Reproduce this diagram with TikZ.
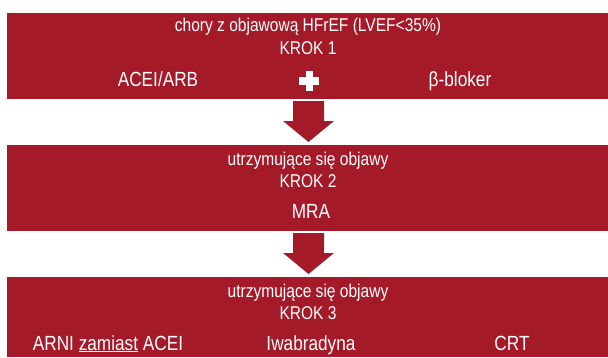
\documentclass[tikz,border=0pt]{standalone}
\usepackage{fontspec}
\setmainfont[FakeStretch=0.84]{Liberation Sans}
\usetikzlibrary{calc}
\definecolor{boxred}{RGB}{165,26,41}
\begin{document}
\begin{tikzpicture}[x=1pt,y=1pt,
  redbox/.style={fill=boxred, draw=none, inner sep=0pt, outer sep=0pt, anchor=south west},
  hdr/.style={text=white, font=\fontsize{18.5}{20}\selectfont, anchor=base, inner sep=0pt},
  itm/.style={text=white, font=\fontsize{20.5}{22}\selectfont, anchor=base, inner sep=0pt}]
\useasboundingbox (0,0) rectangle (608,357);
% boxes
\node[redbox, minimum width=601pt, minimum height=86pt] (b1) at (7,258) {};
\node[redbox, minimum width=601pt, minimum height=86pt] (b2) at (7,126) {};
\node[redbox, minimum width=601pt, minimum height=80pt] (b3) at (7,0) {};
% arrows
\foreach \a/\b in {b1/b2, b2/b3} {
  \fill[boxred] let \p1=(\a.south), \p2=(\b.north) in
    (293,\y1-2pt) -- (324,\y1-2pt) -- (324,\y2+24pt) -- (334,\y2+24pt)
    -- (308.5,\y2+3pt) -- (283,\y2+24pt) -- (293,\y2+24pt) -- cycle;
}
% box 1 texts
\node[hdr] (t11) at (308,325) {chory z objawową HFrEF (LVEF<35\%)};
\node[hdr] (t12) at (308,302) {KROK 1};
\node[itm] (t13) at (158,271) {ACEI/ARB};
\node[itm] (t14) at (460,271) {β-bloker};
\fill[white] (309,276) +(-10,-3.5) rectangle +(10,3.5);
\fill[white] (309,276) +(-3.5,-10) rectangle +(3.5,10);
% box 2 texts
\node[hdr] (t21) at (308,192) {utrzymujące się objawy};
\node[hdr] (t22) at (308,170) {KROK 2};
\node[itm] (t23) at (311,139) {MRA};
% box 3 texts
\node[hdr] (t31) at (308,60) {utrzymujące się objawy};
\node[hdr] (t32) at (308,38) {KROK 3};
\node[itm] (t33) at (108,7) {ARNI \underline{zamiast} ACEI};
\node[itm] (t34) at (311,7) {Iwabradyna};
\node[itm] (t35) at (512,7) {CRT};
\end{tikzpicture}
\end{document}
